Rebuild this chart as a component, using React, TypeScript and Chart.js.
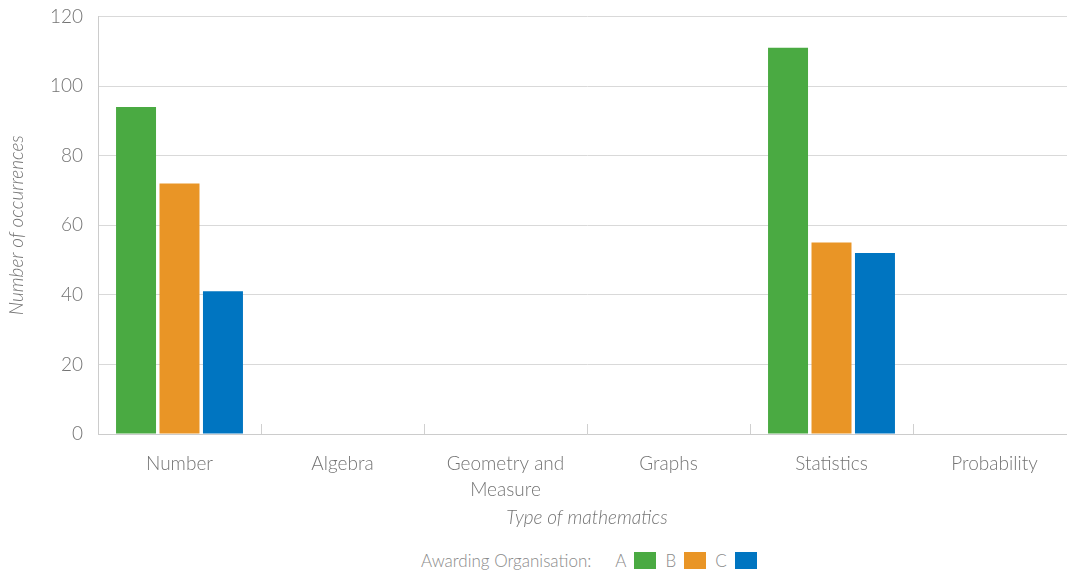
import React, { useEffect, useRef } from "react";
import { Chart, registerables } from "chart.js";

Chart.register(...registerables);

const categories: (string | string[])[] = [
  "Number",
  "Algebra",
  ["Geometry and", "Measure"],
  "Graphs",
  "Statistics",
  "Probability",
];
const seriesA = [94, 0, 0, 0, 111, 0];
const seriesB = [72, 0, 0, 0, 55, 0];
const seriesC = [41, 0, 0, 0, 52, 0];
const yTicks = [0, 20, 40, 60, 80, 100, 120];

const GREEN = "#4aaa42";
const ORANGE = "#e99526";
const BLUE = "#0075c1";
const FONT = "Lato, 'Open Sans', sans-serif";
const TEXT = "#747474";

const separatorPlugin = {
  id: "separators",
  afterDatasetsDraw(chart: any) {
    const x = chart.scales.x;
    const bottom = chart.chartArea.bottom;
    const ctx = chart.ctx;
    ctx.save();
    ctx.strokeStyle = "#d0d0d0";
    ctx.lineWidth = 1;
    for (let i = 1; i < categories.length; i++) {
      const px = Math.round((x.getPixelForTick(i - 1) + x.getPixelForTick(i)) / 2) + 0.5;
      ctx.beginPath();
      ctx.moveTo(px, bottom - 10);
      ctx.lineTo(px, bottom);
      ctx.stroke();
    }
    ctx.restore();
  },
};

export default function App() {
  const ref = useRef<HTMLCanvasElement>(null);
  useEffect(() => {
    if (!ref.current) return;
    const chart = new Chart(ref.current, {
      type: "bar",
      data: {
        labels: categories as any,
        datasets: [
          { label: "A", data: seriesA, backgroundColor: GREEN },
          { label: "B", data: seriesB, backgroundColor: ORANGE },
          { label: "C", data: seriesC, backgroundColor: BLUE },
        ],
      },
      options: {
        animation: false,
        responsive: false,
        maintainAspectRatio: false,
        layout: { padding: { top: 6, right: 0, left: 0, bottom: 0 } },
        datasets: { bar: { categoryPercentage: 0.8, barPercentage: 0.92 } },
        plugins: {
          legend: { display: false },
          tooltip: { enabled: false },
        },
        scales: {
          x: {
            grid: { display: false },
            border: { display: true, color: "#cccccc" },
            ticks: {
              color: TEXT,
              padding: 9,
              font: { family: FONT, size: 19, weight: "300", lineHeight: 1.37 },
              maxRotation: 0,
              autoSkip: false,
            },
            title: {
              display: true,
              text: "Type of mathematics",
              color: TEXT,
              font: { family: FONT, size: 19, style: "italic", weight: "300" },
              padding: { top: 0, bottom: 11 },
            },
            afterFit(s: any) {
              s.height = 106;
            },
          },
          y: {
            min: 0,
            max: 120,
            afterBuildTicks(s: any) {
              s.ticks = yTicks.map((v) => ({ value: v }));
            },
            grid: { color: "#d9d9d9", drawTicks: false },
            border: { display: true, color: "#cccccc" },
            ticks: {
              color: TEXT,
              padding: 15,
              font: { family: FONT, size: 19, weight: "300" },
            },
            title: {
              display: true,
              text: "Number of occurrences",
              color: TEXT,
              font: { family: FONT, size: 19, style: "italic", weight: "300" },
              padding: { top: 5, bottom: 0 },
            },
            afterFit(s: any) {
              s.width = 98;
            },
          },
        },
      },
      plugins: [separatorPlugin],
    });
    return () => chart.destroy();
  }, []);

  const box = (c: string) => (
    <span style={{ display: "inline-block", width: 22, height: 17, background: c, marginLeft: 8 }} />
  );

  return (
    <div
      style={{
        position: "absolute",
        left: 0,
        top: 0,
        width: 1067,
        height: 573,
        background: "#fff",
        overflow: "hidden",
      }}
    >
      <canvas
        ref={ref}
        width={1076}
        height={550}
        style={{ display: "block", position: "absolute", left: 0, top: -10 }}
      />
      <div
        style={{
          position: "absolute",
          left: 421,
          top: 549,
          display: "flex",
          alignItems: "center",
          fontFamily: FONT,
          fontWeight: 300,
          fontSize: 17,
          color: "#8a8a8a",
          height: 22,
        }}
      >
        <span>Awarding Organisation:</span>
        <span style={{ marginLeft: 24 }}>A</span>
        {box(GREEN)}
        <span style={{ marginLeft: 9 }}>B</span>
        {box(ORANGE)}
        <span style={{ marginLeft: 9 }}>C</span>
        {box(BLUE)}
      </div>
    </div>
  );
}
